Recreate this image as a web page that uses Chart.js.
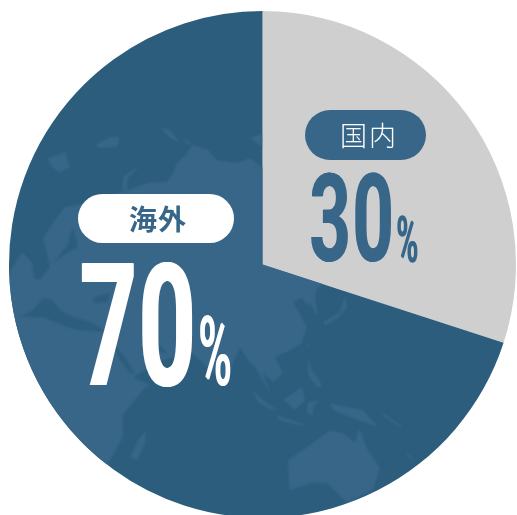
<!DOCTYPE html>
<html>
<head>
<meta charset="utf-8">
<style>
    html, body { margin: 0; padding: 0; background: #fff; overflow: hidden; width: 517px; height: 515px; }
    canvas { position: absolute; left: 0; top: 0; }
</style>
<script src="https://cdn.jsdelivr.net/npm/chart.js@4"></script>
</head>
<body>
<canvas id="pieChart" width="524" height="524"></canvas>
<script>
const categories = ["国内", "海外"];
const shares = [30, 70];
const sliceColors = ["#cfcfcf", "#2c5d7c"];

const landColor = "#376689";
const seaColor = "#2c5d7c";

// rough world map behind the big slice, picture coordinates
const land = [
    // eurasia + africa
    [[0,310],[12,268],[22,252],[32,262],[34,278],[40,280],[50,267],[43,238],[53,223],[65,207],[77,205],[100,198],[122,192],[150,182],[167,182],[173,173],[177,163],[187,153],[192,145],[207,149],[217,160],[237,163],[250,158],[262,167],[340,200],[330,280],[317,288],[315,297],[316,303],[318,315],[315,313],[310,303],[307,305],[302,298],[293,302],[298,310],[307,327],[302,343],[287,352],[275,357],[283,373],[273,382],[262,372],[272,397],[255,367],[248,360],[240,347],[230,370],[223,380],[210,370],[192,353],[163,360],[133,377],[150,385],[143,390],[123,415],[123,437],[110,460],[80,500],[0,450]],
    // arctic
    [[47,158],[65,152],[70,167],[60,173],[52,167]],
    [[95,145],[110,137],[120,137],[117,147],[100,148]],
    [[160,127],[170,130],[180,143],[170,138]],
    [[182,137],[192,143],[187,145]],
    [[122,190],[123,177],[140,165],[138,168],[128,178],[127,192]],
    [[250,138],[262,133],[262,147]],
    // madagascar
    [[130,458],[138,440],[146,430],[145,443],[138,460]],
    // australia
    [[288,460],[310,445],[330,430],[343,433],[355,443],[359,428],[368,450],[380,468],[373,490],[347,503],[337,493],[327,483],[313,483],[290,490],[288,473]],
    // new guinea, borneo, sumatra, java, sulawesi, philippines
    [[330,403],[347,407],[363,410],[378,427],[363,422],[350,417],[333,410]],
    [[283,400],[302,387],[305,400],[295,410]],
    [[252,390],[263,400],[277,410],[272,410],[258,402]],
    [[277,415],[297,422],[310,425],[297,425],[278,420]],
    [[308,402],[320,400],[313,407],[313,415],[307,413]],
    [[308,358],[312,370],[322,385],[318,388],[308,375]],
    // japan, taiwan, small islands
    [[323,322],[340,312],[345,295],[347,307],[338,318],[325,326]],
    [[307,342],[309,345],[307,349]],
    [[383,413],[403,427],[401,428],[382,415]],
    [[407,453],[413,458],[412,460],[406,455]]
];

const seas = [
    // mediterranean
    [[20,317],[33,310],[43,298],[52,300],[60,310],[73,317],[90,322],[107,332],[77,330],[57,323],[43,317]],
    // black sea, baltic, red sea, gulf
    [[93,298],[110,293],[107,302],[95,303]],
    [[73,228],[78,247],[67,253],[53,263],[68,245],[70,235]],
    [[113,343],[125,358],[134,372],[131,374],[120,360]],
    [[157,342],[167,353],[160,352]]
];

function fillShapes(ctx, shapes, color) {
    ctx.fillStyle = color;
    shapes.forEach((shape) => {
        ctx.beginPath();
        shape.forEach((p, i) => (i ? ctx.lineTo(p[0], p[1]) : ctx.moveTo(p[0], p[1])));
        ctx.closePath();
        ctx.fill();
    });
}

function pill(ctx, x, y, w, h, color) {
    ctx.fillStyle = color;
    ctx.beginPath();
    ctx.roundRect(x, y, w, h, h / 2);
    ctx.fill();
}

// the numbers are a condensed face, so squeeze a bold one sideways
// and draw it a few times side by side to get the stems back
function squeezedText(ctx, text, x, y, font, squeeze, color, widen, gap) {
    ctx.save();
    ctx.font = font;
    ctx.textAlign = "left";
    ctx.textBaseline = "alphabetic";
    ctx.fillStyle = color;
    ctx.letterSpacing = (gap || 0) + "px";
    for (let dx = 0; dx <= widen; dx++) {
        ctx.save();
        ctx.translate(x + dx, y);
        ctx.scale(squeeze, 1);
        ctx.fillText(text, 0, 0);
        ctx.restore();
    }
    ctx.restore();
}

function spacedLabel(ctx, text, cx, y, font, color, gap) {
    ctx.save();
    ctx.font = font;
    ctx.fillStyle = color;
    ctx.textAlign = "center";
    ctx.textBaseline = "middle";
    ctx.letterSpacing = gap + "px";
    ctx.fillText(text, cx, y);
    ctx.restore();
}

const mapPlugin = {
    id: "worldMap",
    afterDatasetsDraw(chart) {
        const ctx = chart.ctx;
        const arc = chart.getDatasetMeta(0).data[1];
        ctx.save();
        ctx.beginPath();
        ctx.moveTo(arc.x, arc.y);
        ctx.arc(arc.x, arc.y, arc.outerRadius, arc.startAngle, arc.endAngle);
        ctx.closePath();
        ctx.clip();
        ctx.filter = "blur(0.8px)";
        fillShapes(ctx, land, landColor);
        fillShapes(ctx, seas, seaColor);
        ctx.restore();
    },
};

const labelPlugin = {
    id: "sliceLabels",
    afterDraw(chart) {
        const ctx = chart.ctx;

        pill(ctx, 305, 110, 121, 50, landColor);
        spacedLabel(ctx, categories[0], 369, 136, "300 27px 'Noto Sans CJK JP'", "#ffffff", 2);
        squeezedText(ctx, String(shares[0]), 309, 261, "700 122px Roboto", 0.59, landColor, 1, 3);
        squeezedText(ctx, "%", 396, 262, "500 64px Roboto", 0.46, landColor, 1, 0);

        pill(ctx, 78, 194, 156, 49, "#ffffff");
        spacedLabel(ctx, categories[1], 158, 219, "700 28px 'Noto Sans CJK JP'", landColor, 1);
        squeezedText(ctx, String(shares[1]), 79, 385, "700 171px Roboto", 0.58, "#ffffff", 2, 3);
        squeezedText(ctx, "%", 198, 385, "500 96px Roboto", 0.47, "#ffffff", 1, 0);
    },
};

new Chart(document.getElementById("pieChart").getContext("2d"), {
    type: "pie",
    data: {
        labels: categories,
        datasets: [
            {
                data: shares,
                backgroundColor: sliceColors,
                borderWidth: 0,
            },
        ],
    },
    options: {
        responsive: false,
        animation: false,
        layout: { padding: { left: 9, right: 8, top: 11, bottom: 6 } },
        plugins: {
            legend: { display: false },
            tooltip: { enabled: false },
        },
    },
    plugins: [mapPlugin, labelPlugin],
});
</script>
</body>
</html>
